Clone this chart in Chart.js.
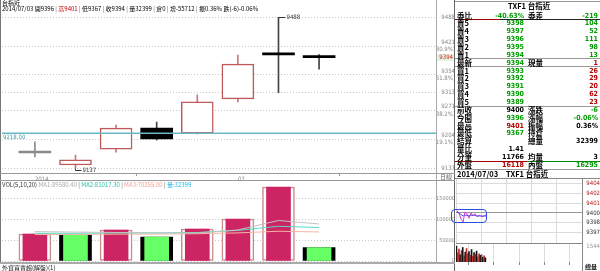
<!DOCTYPE html>
<html>
<head>
<meta charset="utf-8">
<title>台指近 日線</title>
<script src="https://cdn.jsdelivr.net/npm/chart.js@4.4.1/dist/chart.umd.min.js"></script>
<style>
  body { margin:0; width:600px; height:271px; overflow:hidden; background:#fff; position:relative;
         font-family:"Liberation Sans Narrow","DejaVu Sans Condensed",Arial,sans-serif; }
  canvas { position:absolute; }
  .ln { position:absolute; }
  .tx { position:absolute; white-space:nowrap; }
  .lab { position:absolute; white-space:nowrap; font:bold 7.5px "Noto Sans CJK TC","Noto Sans CJK SC",sans-serif; line-height:8px; color:#000; }
  .val { position:absolute; white-space:nowrap; font:bold 7px "Liberation Sans Narrow","DejaVu Sans Condensed",sans-serif; line-height:8px; text-align:right; }
</style>
</head>
<body>
<canvas id="mainChart" width="455" height="181" style="left:0;top:0"></canvas>
<canvas id="volChart" width="455" height="82" style="left:0;top:181px"></canvas>
<canvas id="miniPrice" width="144" height="64" style="left:456px;top:179px"></canvas>
<canvas id="miniVol" width="144" height="28" style="left:456px;top:243px"></canvas>
<div id="decor"></div>
<div id="quote"></div>
<script>
// --- daily bars (2014/06/24 .. 2014/07/03) ---
const days    = ['06/24', '06/25', '06/26', '06/27', '06/30', '07/01', '07/02', '07/03'];
const opens   = [9172, 9144, 9181, 9230, 9218, 9298, 9405, 9396];
const highs   = [9198, 9167, 9237, 9244, 9307, 9400, 9488, 9401];
const lows    = [9163, 9137, 9174, 9202, 9216, 9291, 9312, 9367];
const closes  = [9172, 9156, 9230, 9205, 9291, 9379, 9400, 9394];

// --- volume + moving averages ---
const volumes = [65300, 62900, 75000, 58000, 77400, 101600, 179000, 32399];
const volUp   = [true, false, true, false, true, true, true, false];
const ma5     = [71000, 70000, 69000, 68000, 68000, 75000, 98000, 89580.4];
const ma10    = [67000, 67000, 68000, 68000, 69000, 74000, 84000, 81017.3];
const ma20    = [64000, 64000, 65000, 65000, 66000, 68000, 72000, 70255.0];

// --- axis ticks ---
const priceTicks  = [9137, 9204, 9271, 9313, 9354, 9421, 9488];
const fibLabels   = ['', '(19.1%)', '(38.2%)', '', '(61.8%)', '(80.9%)', ''];
const refLine     = 9218;
const xTickPos    = [0, 5];
const xTickLabels = ['2014', '07'];
const volTicks    = [0, 50000, 100000, 150000];

// --- intraday mini chart ---
const miniMinutes = [2, 7, 12, 17, 21, 26, 31, 36, 40, 45, 50, 55, 59, 64, 69, 74];
const miniPrice   = [9400.3, 9400.0, 9399.2, 9398.8, 9400.1, 9399.9, 9399.3, 9400.0,
                     9399.6, 9399.9, 9399.5, 9399.7, 9399.6, 9399.5, 9399.7, 9399.8];
const miniAvg     = [9400.1, 9400.0, 9399.8, 9399.6, 9399.7, 9399.7, 9399.6, 9399.7,
                     9399.7, 9399.7, 9399.6, 9399.6, 9399.6, 9399.6, 9399.6, 9399.6];
const miniTicks      = [9397.4, 9398.7, 9400, 9401.3, 9402.6, 9403.9];
const miniTickLabels = ['9397', '9398', '9400', '9401', '9402', '9404'];
const hourTicks      = [0, 60, 120, 180, 240, 300];
const miniVolMinutes = [1, 4, 7, 10, 13, 16, 19, 22, 25, 28, 31, 34, 37, 40, 43, 46, 49, 52, 55, 58, 61, 64, 67, 70];
const miniVols       = [1544, 900, 1250, 700, 1100, 1400, 600, 950, 1300, 800, 1000, 650,
                        1200, 550, 900, 750, 1050, 500, 800, 650, 700, 450, 600, 400];
const miniVolUp      = [false, true, true, false, true, false, true, false, true, true, false, true,
                        false, true, false, true, false, true, true, false, true, false, true, false];

// --- quote panel ---
const quoteRows = [
  ['委比', '-40.63%', 'g', '委差', '-219', 'g'],
  ['賣5', '9398', 'g', '', '104', 'g'],
  ['賣4', '9397', 'g', '', '52', 'g'],
  ['賣3', '9396', 'g', '', '111', 'g'],
  ['賣2', '9395', 'g', '', '98', 'g'],
  ['賣1', '9394', 'g', '', '13', 'g'],
  ['最新', '9394', 'g', '現量', '1', 'r'],
  ['買1', '9393', 'g', '', '26', 'r'],
  ['買2', '9392', 'g', '', '29', 'r'],
  ['買3', '9391', 'g', '', '20', 'r'],
  ['買4', '9390', 'g', '', '62', 'r'],
  ['買5', '9389', 'g', '', '23', 'r'],
  ['前收', '9400', 'k', '漲跌', '-6', 'g'],
  ['今開', '9396', 'g', '漲幅', '-0.06%', 'g'],
  ['最高', '9401', 'r', '振幅', '0.36%', 'k'],
  ['最低', '9367', 'g', '持倉', '', 'k'],
  ['結算', '', 'k', '總量', '32399', 'k'],
  ['量比', '1.41', 'k', '', '', 'k'],
  ['分筆', '11766', 'k', '均量', '3', 'k'],
  ['外盤', '16118', 'r', '內盤', '16295', 'g'],
];

const X_MIN = -0.81, X_MAX = 9.88;
const tiny = { family: '"Liberation Sans Narrow","DejaVu Sans Condensed",sans-serif', size: 6 };
const tinier = { family: '"Liberation Sans Narrow","DejaVu Sans Condensed",sans-serif', size: 5.5 };
const noPlugins = { legend: { display: false }, tooltip: { enabled: false } };

const dirs = days.map((d, i) => Math.sign(closes[i] - opens[i]));

// labels drawn on the candle panel (ref line value, hi/lo marks, last price tag)
const markPlugin = {
  id: 'marks',
  afterDatasetsDraw(chart) {
    const { ctx, chartArea: a, scales: { x, y } } = chart;
    ctx.save();
    ctx.font = '6px "Liberation Sans Narrow","DejaVu Sans Condensed",sans-serif';
    ctx.textBaseline = 'middle';
    ctx.lineWidth = 1;

    const ry = y.getPixelForValue(refLine);
    ctx.fillStyle = '#3d9fb2';
    ctx.fillText(refLine.toFixed(2), a.left + 1, ry + 4);

    const hi = highs.indexOf(Math.max(...highs));
    const hx = Math.round(x.getPixelForValue(hi)) + 0.5;
    const hy = Math.round(y.getPixelForValue(highs[hi])) + 0.5;
    ctx.strokeStyle = '#333';
    ctx.beginPath(); ctx.moveTo(hx, hy); ctx.lineTo(hx + 7, hy); ctx.stroke();
    ctx.fillStyle = '#333';
    ctx.fillText(String(highs[hi]), hx + 8, hy);

    const lo = lows.indexOf(Math.min(...lows));
    const lx = Math.round(x.getPixelForValue(lo)) + 0.5;
    const ly = Math.round(y.getPixelForValue(lows[lo])) + 0.5;
    ctx.beginPath(); ctx.moveTo(lx, ly); ctx.lineTo(lx, ly + 2); ctx.lineTo(lx + 6, ly + 2); ctx.stroke();
    ctx.fillText(String(lows[lo]), lx + 7, ly + 2);

    const last = closes.length - 1;
    const cy = y.getPixelForValue(closes[last]);
    ctx.fillStyle = '#e2f3e2';
    ctx.fillRect(a.right + 1, cy - 3.5, 17, 7);
    ctx.fillStyle = '#e02020';
    ctx.textAlign = 'right';
    ctx.fillText(String(closes[last]), a.right + 17, cy);
    ctx.restore();
  }
};

// --- candle panel ---
new Chart(document.getElementById('mainChart'), {
  type: 'bar',
  data: {
    datasets: [
      {
        data: days.map((d, i) => ({ x: i, y: [lows[i], highs[i]] })),
        backgroundColor: dirs.map(d => d > 0 ? '#c87878' : d < 0 ? '#444' : '#8a8a8a'),
        barThickness: 1, grouped: false, order: 3
      },
      {
        data: days.map((d, i) => ({ x: i, y: [opens[i], closes[i]] })),
        backgroundColor: dirs.map(d => d > 0 ? '#fff' : d < 0 ? '#000' : '#8a8a8a'),
        borderColor: dirs.map(d => d > 0 ? '#c05a5a' : d < 0 ? '#000' : '#8a8a8a'),
        borderWidth: dirs.map(d => d > 0 ? 1.5 : 0),
        borderSkipped: false, barThickness: 32, minBarLength: 2, grouped: false, order: 2
      },
      {
        type: 'line',
        data: [{ x: X_MIN, y: refLine }, { x: X_MAX, y: refLine }],
        borderColor: '#6ab7c6', borderWidth: 1.5, pointRadius: 0, order: 1
      }
    ]
  },
  options: {
    responsive: false, animation: false,
    layout: { autoPadding: false, padding: { left: 2 } },
    plugins: noPlugins,
    scales: {
      x: {
        type: 'linear', min: X_MIN, max: X_MAX, offset: false,
        afterBuildTicks: s => { s.ticks = xTickPos.map(v => ({ value: v })); },
        afterFit: s => { s.height = 8; s.paddingLeft = 0; s.paddingRight = 0; },
        ticks: { callback: v => xTickLabels[xTickPos.indexOf(v)], font: tiny, color: '#888',
                 align: 'start', maxRotation: 0, autoSkip: false, padding: 0 },
        grid: { drawOnChartArea: false, tickLength: 3, color: '#999' },
        border: { display: false }
      },
      y: {
        position: 'right', min: 9125.4, max: 9528.1,
        afterBuildTicks: s => { s.ticks = priceTicks.map(v => ({ value: v })); },
        afterFit: s => { s.width = 19; s.paddingTop = 0; s.paddingBottom = 0; },
        ticks: {
          callback: v => { const k = priceTicks.indexOf(v); return fibLabels[k] ? [String(v), fibLabels[k]] : String(v); },
          font: tiny, color: '#888', crossAlign: 'far', padding: 1
        },
        grid: { color: '#c8c8c8', drawTicks: false },
        border: { display: false, dash: [1, 2] }
      }
    }
  },
  plugins: [markPlugin]
});

// --- volume panel ---
const volPoints = volumes.map((v, i) => ({ x: i, y: v }));
const maLine = (arr, color, order) => ({
  type: 'line', data: arr.map((v, i) => ({ x: i, y: v })),
  borderColor: color, borderWidth: 1, pointRadius: 0, order
});
new Chart(document.getElementById('volChart'), {
  type: 'bar',
  data: {
    datasets: [
      {
        data: volPoints,
        backgroundColor: volUp.map(u => u ? '#fff' : '#000'),
        borderColor: volUp.map(u => u ? '#c98a8a' : '#000'),
        borderWidth: volUp.map(u => u ? 1.5 : 0),
        borderSkipped: false, barThickness: 32, grouped: false, order: 5
      },
      {
        data: volPoints,
        backgroundColor: volUp.map(u => u ? '#cd2463' : '#66ff66'),
        barThickness: 24, grouped: false, order: 4
      },
      maLine(ma20, '#f5b5a5', 3),
      maLine(ma10, '#55dcc0', 2),
      maLine(ma5, '#c4c4c4', 1)
    ]
  },
  options: {
    responsive: false, animation: false,
    layout: { autoPadding: false, padding: { left: 2, bottom: 2 } },
    plugins: noPlugins,
    scales: {
      x: { type: 'linear', min: X_MIN, max: X_MAX, offset: false, display: false },
      y: {
        position: 'right', min: 0, max: 193548,
        afterBuildTicks: s => { s.ticks = volTicks.map(v => ({ value: v })); },
        afterFit: s => { s.width = 19; s.paddingTop = 0; s.paddingBottom = 0; },
        ticks: { callback: v => String(v), font: tinier, color: '#888', crossAlign: 'far', padding: 1 },
        grid: { color: '#c8c8c8', drawTicks: false },
        border: { display: false, dash: [1, 2] }
      }
    }
  }
});

// --- intraday mini chart (price) ---
new Chart(document.getElementById('miniPrice'), {
  type: 'line',
  data: {
    datasets: [
      { data: miniMinutes.map((m, i) => ({ x: m, y: miniAvg[i] })), borderColor: '#5a4fd6', borderWidth: 1, pointRadius: 0 },
      { data: miniMinutes.map((m, i) => ({ x: m, y: miniPrice[i] })), borderColor: '#e030e0', borderWidth: 1, pointRadius: 0 }
    ]
  },
  options: {
    responsive: false, animation: false,
    layout: { autoPadding: false },
    plugins: noPlugins,
    scales: {
      x: {
        type: 'linear', min: 0, max: 300,
        afterBuildTicks: s => { s.ticks = hourTicks.map(v => ({ value: v })); },
        afterFit: s => { s.height = 0; s.paddingLeft = 0; s.paddingRight = 0; },
        ticks: { display: false },
        grid: { color: '#dcdcdc', drawTicks: false },
        border: { display: false }
      },
      y: {
        position: 'right', min: 9396, max: 9404.533,
        afterBuildTicks: s => { s.ticks = miniTicks.map(v => ({ value: v })); },
        afterFit: s => { s.width = 18; s.paddingTop = 0; s.paddingBottom = 0; },
        ticks: {
          callback: v => miniTickLabels[miniTicks.indexOf(v)],
          font: tiny, crossAlign: 'far', padding: 1,
          color: c => c.tick && c.tick.value > 9400 ? '#b02020' : '#333'
        },
        grid: { color: c => c.tick && c.tick.value === 9400 ? '#999' : '#dcdcdc', drawTicks: false },
        border: { display: false }
      }
    }
  }
});

// --- intraday mini chart (volume) ---
new Chart(document.getElementById('miniVol'), {
  type: 'bar',
  data: {
    datasets: [{
      data: miniVolMinutes.map((m, i) => ({ x: m, y: miniVols[i] })),
      backgroundColor: miniVolUp.map(u => u ? '#b83030' : '#111'),
      barThickness: 1
    }]
  },
  options: {
    responsive: false, animation: false,
    layout: { autoPadding: false },
    plugins: noPlugins,
    scales: {
      x: {
        type: 'linear', min: 0, max: 300, offset: false,
        afterBuildTicks: s => { s.ticks = hourTicks.map(v => ({ value: v })); },
        afterFit: s => { s.height = 9; s.paddingLeft = 0; s.paddingRight = 0; },
        ticks: { display: false },
        grid: { color: '#dcdcdc', tickLength: 3, tickColor: '#888' },
        border: { display: false }
      },
      y: {
        position: 'right', min: 0, max: 1833.5,
        afterBuildTicks: s => { s.ticks = [{ value: 1544 }]; },
        afterFit: s => { s.width = 18; s.paddingTop = 0; s.paddingBottom = 0; },
        ticks: { callback: v => String(v), font: tiny, color: '#999', crossAlign: 'far', padding: 1 },
        grid: { display: false },
        border: { display: false }
      }
    }
  }
});

// --- frame lines & free text ---
const decor = document.getElementById('decor');
function box(x, y, w, h, color) {
  const d = document.createElement('div');
  d.className = 'ln';
  d.style.cssText = `left:${x}px;top:${y}px;width:${w}px;height:${h}px;background:${color}`;
  decor.appendChild(d);
}
function text(x, y, html, css) {
  const d = document.createElement('div');
  d.className = 'tx';
  d.style.cssText = `left:${x}px;top:${y}px;${css || ''}`;
  d.innerHTML = html;
  decor.appendChild(d);
}

box(0, 0, 1, 264, '#777');
box(436, 0, 1, 263, '#aaa');
box(454, 0, 1, 271, '#666');
box(0, 173, 455, 1, '#999');
box(0, 180, 455, 1, '#999');
box(0, 262, 455, 2, '#aaa');
box(455, 178, 145, 1, '#888');
box(456, 243, 126, 1, '#888');
box(582, 179, 1, 92, '#888');

// quote table separators
box(455, 1, 145, 1, '#999');
box(455, 19, 45, 1, '#a00000');
box(500, 19, 100, 1, '#222');
box(455, 58, 145, 1, '#999');
box(455, 66, 145, 1, '#999');
box(455, 106, 145, 1, '#999');
box(455, 161, 72, 1, '#a00000');
box(527, 161, 73, 1, '#008800');
box(455, 169, 145, 1, '#999');

const sep = '<span style="color:#666"> | </span>';
text(2, 0, '台指近', 'font:6px/6px "Noto Sans CJK TC";color:#000');
text(2, 6, '2014/07/03 開9396' + sep + '<span style="color:#c00000">高9401</span>' + sep + '低9367' + sep +
     '收9394' + sep + '量32399' + sep + '倉0' + sep + '增-55712' + sep + '振0.36% 跌(-6)-0.06%',
     'font:6px/6px "Liberation Sans Narrow","Noto Sans CJK TC";color:#000');
text(2, 181.5, 'VOL(5,10,20) <span style="color:#aaa">MA1:' + ma5[7].toFixed(2) + '</span>' + sep +
     '<span style="color:#2cc0a0">MA2:' + ma10[7].toFixed(2) + '</span>' + sep +
     '<span style="color:#f0a090">MA3:' + ma20[7].toFixed(2) + '</span>' + sep +
     '<span style="color:#20b8e0">量:' + volumes[7] + '</span>',
     'font:6px/6px "Liberation Sans Narrow","Noto Sans CJK TC";color:#333');
text(440, 174, '日線', 'font:6px/6px "Noto Sans CJK TC";color:#666');
text(2, 264.5, '外資買賣超(解盤)(1)', 'font:6px/6px "Noto Sans CJK TC";color:#222');
text(585, 264, '總量', 'font:bold 6px/6px "Noto Sans CJK TC";color:#000');

const hl = document.createElement('div');
hl.className = 'ln';
hl.style.cssText = 'left:451px;top:209px;width:34px;height:12px;border:1.5px solid #2a4fe0;border-radius:4px';
decor.appendChild(hl);

// --- quote panel text ---
const quote = document.getElementById('quote');
const COLORS = { g: '#009c00', r: '#b40000', k: '#000' };
function lab(x, cy, s) {
  if (!s) return;
  const d = document.createElement('div');
  d.className = 'lab';
  d.style.left = x + 'px';
  d.style.top = (cy - 4) + 'px';
  d.textContent = s;
  quote.appendChild(d);
}
function val(right, cy, s, c) {
  if (!s) return;
  const d = document.createElement('div');
  d.className = 'val';
  d.style.right = right + 'px';
  d.style.top = (cy - 4) + 'px';
  d.style.color = COLORS[c];
  d.textContent = s;
  quote.appendChild(d);
}
lab(508, 6, 'TXF1 台指近');
quoteRows.forEach((r, i) => {
  const cy = 15.5 + 7.86 * i;
  lab(457, cy, r[0]);
  val(76, cy, r[1], r[2]);
  lab(528, cy, r[3]);
  val(2, cy, r[4], r[5]);
});
lab(457, 173.5, '2014/07/03');
lab(506, 173.5, 'TXF1 台指近');
</script>
</body>
</html>
